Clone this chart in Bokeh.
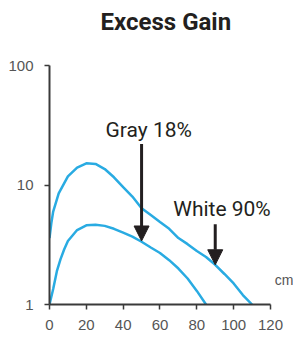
from bokeh.plotting import figure
from bokeh.models import Arrow, NormalHead, FixedTicker, ColumnDataSource, Range1d, Label
from bokeh.core.properties import value
from bokeh.embed import file_html
from bokeh.resources import INLINE

# --- data ---
white_x = [0, 1, 2, 5, 10, 15, 20, 25, 30, 35, 40, 45, 50, 55, 60, 65, 70, 75, 80, 85, 90, 95, 100, 105, 110]
white_y = [3.6, 4.8, 6.0, 8.5, 11.8, 14.0, 15.2, 15.0, 13.6, 11.6, 9.6, 8.0, 6.4, 5.6, 4.9, 4.3, 3.6, 3.2, 2.8, 2.5, 2.15, 1.8, 1.5, 1.2, 1.0]
gray_x = [0, 2, 4, 6, 8, 10, 15, 20, 25, 30, 35, 40, 45, 50, 55, 60, 65, 70, 75, 80, 85]
gray_y = [1.0, 1.35, 1.9, 2.4, 2.9, 3.4, 4.2, 4.6, 4.65, 4.55, 4.3, 4.0, 3.7, 3.35, 3.0, 2.7, 2.35, 2.0, 1.65, 1.3, 1.0]

x_ticks = [0, 20, 40, 60, 80, 100, 120]
y_ticks = [1, 10, 100]
y_tick_labels = ["1", "10", "100"]

labels = ["Gray 18%", "White 90%"]
label_x = [30.4, 67.2]
label_y = [29.1, 6.24]
arrow_x = [50, 90]
arrow_y_start = [22, 4.7]
arrow_y_end = [3.4, 2.15]

unit_label = "cm"
title_text = "Excess Gain"

CURVE = "#29abe2"
INK = "#231f20"
AXIS = "#3a3a3a"
TICKLBL = "#555555"
COND = "Roboto"

p = figure(width=293, height=337, y_axis_type="log",
           x_range=Range1d(0, 132.5), y_range=Range1d(1, 350),
           output_backend="svg", toolbar_location=None,
           min_border_left=49, min_border_right=0, min_border_bottom=33, min_border_top=0)

p.grid.visible = False
p.outline_line_color = None
p.background_fill_color = "white"

for ax in (p.xaxis[0], p.yaxis[0]):
    ax.axis_line_color = AXIS
    ax.axis_line_width = 2
    ax.major_tick_line_color = AXIS
    ax.major_tick_line_width = 1.5
    ax.major_tick_in = 0
    ax.major_tick_out = 5
    ax.minor_tick_line_color = None
    ax.major_label_text_color = TICKLBL
    ax.major_label_text_font = "Liberation Sans"
    ax.major_label_text_font_size = "15px"

p.xaxis.ticker = FixedTicker(ticks=x_ticks)
p.xaxis.bounds = (0, 120)
p.xaxis.major_label_standoff = 10
p.yaxis.ticker = FixedTicker(ticks=y_ticks)
p.yaxis.bounds = (1, 100)
p.yaxis.major_label_overrides = {t: l for t, l in zip(y_ticks, y_tick_labels)}
p.yaxis.major_label_standoff = 11

p.line(white_x, white_y, line_color=CURVE, line_width=2.5)
p.line(gray_x, gray_y, line_color=CURVE, line_width=2.5)

for ax_, ys, ye in zip(arrow_x, arrow_y_start, arrow_y_end):
    p.add_layout(Arrow(end=NormalHead(size=15, fill_color=INK, line_color=INK, line_width=1),
                       x_start=ax_, y_start=ys, x_end=ax_, y_end=ye,
                       line_color=INK, line_width=3))

src = ColumnDataSource(dict(x=label_x, y=label_y, t=labels))
p.text(x="x", y="y", text="t", source=src, text_font=value(COND), text_font_size="21px",
       text_color=INK, text_align="left", text_baseline="alphabetic")

p.text(x=[132.5], y=[1.59], text=[unit_label], text_font=value("Liberation Sans"),
       text_font_size="14px", text_color=TICKLBL, text_align="right", text_baseline="alphabetic")

p.add_layout(Label(x=63.2, y=233, text=title_text, text_font=COND, text_font_size="24px",
                   text_font_style="bold", text_color=INK, text_align="center",
                   text_baseline="alphabetic"))

open("out.html", "w").write(file_html(p, INLINE))
